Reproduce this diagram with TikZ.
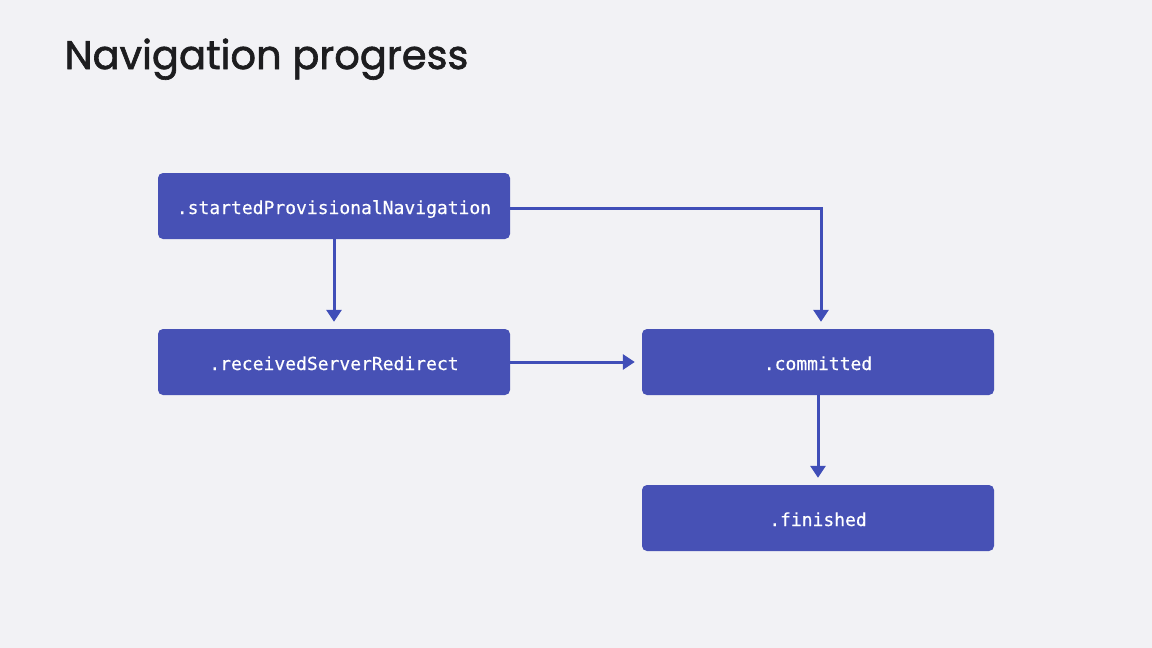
\documentclass[tikz,border=0pt]{standalone}
\usepackage{fontspec}
\setmainfont{Poppins}
\newfontfamily\titlefont{Poppins}[FakeBold=1.6]
\newfontfamily\codefont{DejaVu Sans Mono}[FakeBold=0.4]
\usetikzlibrary{arrows.meta}
\definecolor{bgc}{RGB}{242,242,245}
\definecolor{boxc}{RGB}{71,81,181}
\definecolor{arrc}{RGB}{64,78,184}
\definecolor{titlec}{RGB}{29,29,31}
\tikzset{
  state/.style={draw=none,fill=boxc,rounded corners=5pt,minimum width=352pt,minimum height=66pt,
    text=white,font=\codefont\fontsize{18pt}{20pt}\selectfont,inner sep=0pt,
    text height=16pt,text depth=0pt},
  flow/.style={draw=arrc,line width=3pt,-{Triangle[length=12pt,width=15pt]}}
}
\begin{document}
\begin{tikzpicture}[x=1pt,y=-1pt]
\fill[bgc] (0,0) rectangle (1152,648);
\useasboundingbox (0,0) rectangle (1152,648);
\node[anchor=base west,text=titlec,font=\titlefont\fontsize{40pt}{44pt}\selectfont] (title) at (61,69) {Navigation progress};
\node[state] (a) at (334,206) {.startedProvisionalNavigation};
\node[state] (b) at (334,362) {.receivedServerRedirect};
\node[state] (c) at (818,362) {.committed};
\node[state] (d) at (818,518) {.finished};
\coordinate (corner) at (821,208);
\draw[flow,shorten >=7pt] (a.south) -- (b.north);
\draw[flow,shorten >=7pt] (a.east |- corner) -- (corner) -- (corner |- c.north);
\draw[flow,shorten >=7pt] (b.east) -- (c.west);
\draw[flow,shorten >=7pt] (c.south) -- (d.north);
\end{tikzpicture}
\end{document}
